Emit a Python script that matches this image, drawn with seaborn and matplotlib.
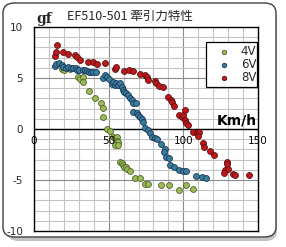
import numpy as np
import pandas as pd
import matplotlib
matplotlib.use("Agg")
import matplotlib.pyplot as plt
import matplotlib.transforms as mtransforms
from matplotlib.patches import FancyBboxPatch
import seaborn as sns

# ---- data ----
x_4v = [18.8, 20.1, 22.1, 24.1, 29.5, 30.8, 32.8, 32.8, 36.8, 40.9, 44.9, 46.2, 46.2,
        48.9, 50.9, 52.9, 54.3, 55.6, 55.6, 56.3, 54.3, 56.3, 57.6, 58.9, 59.6, 60.3,
        61.6, 62.3, 64.3, 67.6, 71.0, 74.3, 76.4, 85.1, 90.4, 97.1, 101.8, 106.5]
y_4v = [5.88, 5.78, 5.98, 5.88, 5.1, 4.9, 5.1, 4.61, 3.73, 3.04, 2.55, 2.06, 1.18,
        0.0, -0.2, -0.78, -0.88, -0.78, -1.18, -1.27, -1.57, -1.57, -3.24, -3.33, -3.53, -3.73,
        -3.73, -3.92, -4.12, -4.8, -4.8, -5.39, -5.39, -5.49, -5.49, -5.98, -5.49, -5.88]

x_6v = [14.1, 14.7, 16.7, 18.8, 19.4, 21.4, 22.8, 24.8, 26.1, 28.1, 28.8, 30.1, 32.8,
        34.2, 35.5, 36.8, 38.2, 39.5, 41.5, 46.2, 47.6, 48.9, 50.2, 52.2, 52.9, 54.3,
        54.9, 56.3, 57.6, 58.9, 59.6, 60.3, 61.6, 63.0, 64.3, 65.6, 66.3, 68.3, 66.3,
        69.0, 69.7, 71.0, 72.3, 73.0, 74.3, 76.4, 77.7, 79.0, 81.0, 82.4, 85.1, 87.7,
        87.1, 88.4, 90.4, 91.1, 93.8, 97.1, 99.8, 101.8, 108.5, 112.5, 115.2]
y_6v = [6.18, 6.37, 6.47, 6.27, 6.08, 5.98, 6.08, 5.98, 5.98, 5.98, 5.78, 5.78, 5.78,
        5.78, 5.69, 5.59, 5.59, 5.59, 5.59, 5.0, 5.29, 5.1, 4.9, 4.41, 4.61, 4.31,
        4.51, 4.31, 4.51, 4.12, 3.82, 3.63, 3.53, 3.33, 3.04, 2.84, 2.55, 2.55, 1.67,
        1.57, 1.37, 1.18, 0.98, 0.69, 0.1, -0.1, -0.39, -0.78, -0.88, -0.98, -1.47, -1.96,
        -2.25, -2.75, -2.84, -3.53, -3.73, -4.02, -4.12, -4.12, -4.61, -4.71, -4.8]

x_8v = [14.1, 14.7, 15.4, 19.4, 22.8, 27.5, 28.8, 30.8, 36.2, 39.5, 42.2, 47.6, 54.3,
        54.9, 60.3, 63.6, 66.3, 71.0, 74.3, 75.7, 76.4, 81.0, 81.7, 83.7, 86.4, 89.8,
        91.8, 92.4, 93.8, 97.1, 99.1, 99.8, 101.1, 101.8, 103.1, 101.1, 106.5, 109.2,
        110.5, 109.8, 113.2, 113.9, 117.9, 120.6, 129.3, 129.3, 127.9, 127.3, 130.0,
        133.3, 134.6, 144.0]
y_8v = [7.2, 7.5, 8.2, 7.5, 7.35, 7.25, 7.06, 6.76, 6.57, 6.57, 6.37, 6.47, 5.88,
        6.08, 5.69, 5.78, 5.69, 5.39, 5.29, 5.1, 4.8, 4.7, 4.5, 4.2, 4.1, 3.1,
        2.8, 2.65, 2.25, 1.37, 1.18, 1.37, 0.88, 0.59, 0.39, 1.86, -0.29, -0.39,
        -0.29, -0.69, -1.37, -1.76, -2.16, -2.55, -3.24, -3.43, -4.02, -4.31, -3.92,
        -4.41, -4.51, -4.51]

series_names = ["4V", "6V", "8V"]
xticks = [0, 50, 100, 150]
xtick_labels = ["0", "50", "100", "150"]
yticks = [-10, -5, 0, 5, 10]
ytick_labels = ["-10", "-5", "0", "5", "10"]
title = "EF510-501 牽引力特性"

df = pd.concat([
    pd.DataFrame({"x": x_4v, "y": y_4v, "s": "4V"}),
    pd.DataFrame({"x": x_6v, "y": y_6v, "s": "6V"}),
    pd.DataFrame({"x": x_8v, "y": y_8v, "s": "8V"}),
], ignore_index=True)

palette = {"4V": "#9BBB59", "6V": "#3B7D96", "8V": "#C0171C"}
edges = {"4V": "#4F6228", "6V": "#17375E", "8V": "#5A1010"}

sns.set_theme(style="white")
plt.rcParams["font.family"] = ["DejaVu Sans"]

W, H = 286, 247
fig = plt.figure(figsize=(W / 100, H / 100), dpi=100)
fig.patch.set_facecolor("white")

# rounded frame with shadow
shadow = FancyBboxPatch((7 / W, 1 - 241 / H), 270 / W, 233 / H,
                        boxstyle="round,pad=0,rounding_size=0.04",
                        transform=fig.transFigure, facecolor="#9a9a9a",
                        edgecolor="none", zorder=0, alpha=0.6)
frame = FancyBboxPatch((3 / W, 1 - 237 / H), 273 / W, 234 / H,
                       boxstyle="round,pad=0,rounding_size=0.04",
                       transform=fig.transFigure, facecolor="white",
                       edgecolor="#404040", linewidth=1.0, zorder=1)
fig.patches.extend([shadow, frame])

ax = fig.add_axes([34 / W, 1 - 231 / H, 224 / W, 204 / H])
ax.set_zorder(2)
ax.set_facecolor("white")

# grid lines (drawn explicitly)
for gx in np.arange(10, 150, 10):
    major = gx % 50 == 0
    ax.axvline(gx, color="#8C8C8C" if major else "#C4C4C4", linewidth=0.8, zorder=1)
for gy in np.arange(-9, 10, 1):
    major = gy % 5 == 0
    ax.axhline(gy, color="#8C8C8C" if major else "#C4C4C4", linewidth=0.8, zorder=1)
ax.axhline(0, color="black", linewidth=1.0, zorder=2)

for name in series_names:
    sub = df[df["s"] == name]
    sns.scatterplot(data=sub, x="x", y="y", ax=ax, color=palette[name],
                    edgecolor=edges[name], linewidth=0.6, s=18, label=name,
                    zorder=3)

ax.set_xlim(0, 150)
ax.set_ylim(-10, 10)
ax.set_xticks(xticks)
ax.set_yticks(yticks)
ax.set_yticklabels(ytick_labels, fontsize=7.5)
ax.set_xticklabels([])
ax.tick_params(axis="both", which="both", length=0)
ax.tick_params(axis="y", pad=8)
for sp in ax.spines.values():
    sp.set_visible(True)
    sp.set_color("black")
    sp.set_linewidth(1.0)
    sp.set_zorder(4)
ax.set_xlabel("")
ax.set_ylabel("")

# x tick labels sit on the y=0 axis
off = mtransforms.offset_copy(ax.transData, fig=fig, x=0, y=-5, units="points")
for t, lab in zip(xticks, xtick_labels):
    ax.text(t, 0, lab, transform=off, ha="center", va="top", fontsize=7.5,
            color="black", zorder=4)

ax.text(0.995, 0.15, "Km/h",
        transform=mtransforms.blended_transform_factory(ax.transAxes, ax.transData),
        ha="right", va="bottom", fontsize=10, fontweight="bold", color="black", zorder=4)

fig.text(36 / W, 1 - 23 / H, "gf", ha="left", va="baseline", fontsize=10,
         fontweight="bold", family="DejaVu Serif", zorder=5)
fig.text(130 / W, 1 - 16 / H, title, ha="center", va="center", fontsize=9,
         family=["Noto Sans CJK JP", "DejaVu Sans"], zorder=5)

leg = ax.legend(loc="upper left", bbox_to_anchor=(0.768, 0.5, 0.228, 0.425),
                mode="expand", fontsize=8.5,
                frameon=True, fancybox=False, borderpad=0.25, labelspacing=0.0,
                handletextpad=0.1, handlelength=2.6, borderaxespad=0,
                markerscale=0.75)
leg.get_frame().set_edgecolor("black")
leg.get_frame().set_linewidth(0.9)
leg.get_frame().set_facecolor("white")
leg.get_frame().set_alpha(1)
leg.set_zorder(5)

fig.savefig("out.png", dpi=100, facecolor="white")
